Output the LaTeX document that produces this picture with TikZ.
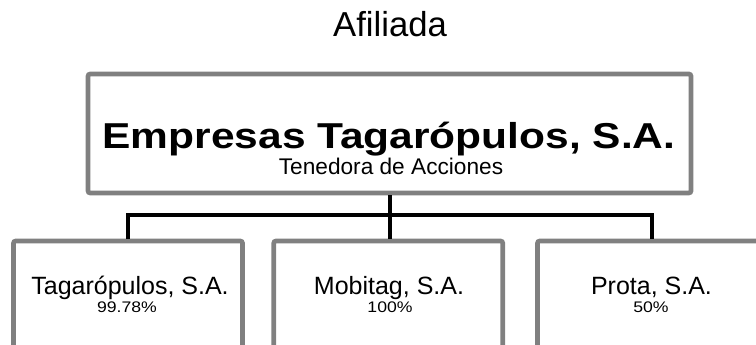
\documentclass[tikz,border=0pt]{standalone}
\usepackage{fontspec}
\setmainfont{Liberation Sans}
\newfontfamily\titlefont[FakeStretch=1.18]{Liberation Sans}
\newfontfamily\pctfont[FakeStretch=1.15]{Liberation Sans}
\usetikzlibrary{positioning}
\definecolor{boxgray}{HTML}{808080}

\begin{document}
\begin{tikzpicture}[x=0.75pt, y=-0.75pt,
    box/.style={draw=boxgray, line width=3.4pt, fill=white, inner sep=0pt, outer sep=0pt, rounded corners=1.5pt},
    firm/.style={box, minimum width=171.75pt, minimum height=84pt},
    word/.style={anchor=base, inner sep=0pt},
    link/.style={line width=3pt, line join=miter, shorten <=1.7pt, shorten >=1.7pt}]
    \useasboundingbox (0,0) rectangle (756,345);
    \clip (0,0) rectangle (756,345);

    \node at (390, 37) (afil) [word, font=\fontsize{26}{30}\selectfont] {Afiliada};

    \node at (389.5, 133.5) (top) [box, minimum width=452.25pt, minimum height=89.25pt] {};
    \node at (389, 149) (topname) [word, font=\titlefont\bfseries\fontsize{27}{30}\selectfont] {Empresas Tagarópulos, S.A.};
    \node at (391, 175) (toprole) [word, font=\fontsize{17}{20}\selectfont] {Tenedora de Acciones};

    \node at (128, 297) (tag) [firm] {};
    \node at (388.25, 297) (mob) [firm] {};
    \node at (652, 297) (prota) [firm] {};

    \node at (130, 294) (tagname) [word, font=\fontsize{18.75}{20}\selectfont] {Tagarópulos, S.A.};
    \node at (127, 312.5) (tagpct) [word, font=\pctfont\fontsize{11.5}{13}\selectfont] {99.78\%};
    \node at (389, 294) (mobname) [word, font=\fontsize{18.75}{20}\selectfont] {Mobitag, S.A.};
    \node at (390, 312.5) (mobpct) [word, font=\pctfont\fontsize{11.5}{13}\selectfont] {100\%};
    \node at (651.5, 294) (protaname) [word, font=\fontsize{18.75}{20}\selectfont] {Prota, S.A.};
    \node at (651, 312.5) (protapct) [word, font=\pctfont\fontsize{11.5}{13}\selectfont] {50\%};

    \coordinate (bar) at (389.5, 215.5);
    \draw[link] (top.south) -- (top.south |- mob.north);
    \draw[link] (tag.north) |- (bar) -| (prota.north);
\end{tikzpicture}
\end{document}
